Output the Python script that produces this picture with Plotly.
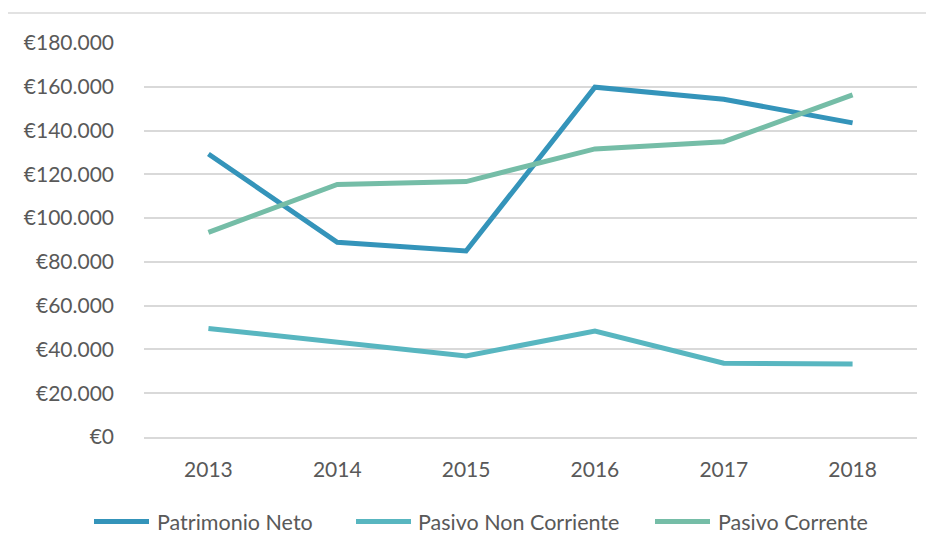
import plotly.graph_objects as go

years = ["2013", "2014", "2015", "2016", "2017", "2018"]
patrimonio_neto = [129300, 89000, 85000, 159800, 154300, 143500]
pasivo_non_corriente = [49600, 43400, 37000, 48400, 33700, 33400]
pasivo_corriente = [93500, 115400, 116700, 131600, 134900, 156300]
y_ticks = [0, 20000, 40000, 60000, 80000, 100000, 120000, 140000, 160000, 180000]
y_tick_labels = ["€0", "€20.000", "€40.000", "€60.000", "€80.000", "€100.000",
                 "€120.000", "€140.000", "€160.000", "€180.000"]

series_names = ["Patrimonio Neto", "Pasivo Non Corriente", "Pasivo Corrente"]
series_values = [patrimonio_neto, pasivo_non_corriente, pasivo_corriente]
series_colors = ["#3494BA", "#58B6C0", "#75BDA7"]

FONT = "Lato"
TXT = "#595959"
GRID = "#D9D9D9"

# page body has an 8px margin; figure sized to fit inside the window
W, H = 918, 536
L, R, T, B = 136, 9, 35, 107
PW, PH = W - L - R, H - T - B


def px_x(x):  # figure pixel -> paper x
    return (x - L) / PW


def px_y(y):  # figure pixel -> paper y
    return (H - B - y) / PH


fig = go.Figure()
for name, vals, col in zip(series_names, series_values, series_colors):
    fig.add_trace(go.Scatter(
        x=years, y=vals, name=name, mode="lines",
        line=dict(color=col, width=5), showlegend=False,
    ))

shapes = [dict(
    type="rect", xref="paper", yref="paper",
    x0=px_x(-1), x1=px_x(940), y0=px_y(560), y1=px_y(5),
    line=dict(color=GRID, width=1.5), fillcolor="rgba(0,0,0,0)", layer="below",
)]
annotations = []
# manual legend (symbol start x, text start x) in figure pixels
legend_pos = [(86, 147), (348, 408), (647, 708)]
leg_y = 513.5
for (sx, tx), name, col in zip(legend_pos, series_names, series_colors):
    shapes.append(dict(
        type="line", xref="paper", yref="paper",
        x0=px_x(sx), x1=px_x(sx + 55), y0=px_y(leg_y), y1=px_y(leg_y),
        line=dict(color=col, width=5),
    ))
    annotations.append(dict(
        text=name, xref="paper", yref="paper", x=px_x(tx), y=px_y(leg_y),
        xanchor="left", yanchor="middle", showarrow=False,
        font=dict(family=FONT, size=21.5, color=TXT),
    ))

fig.update_layout(
    width=W, height=H,
    margin=dict(l=L, r=R, t=T, b=B),
    paper_bgcolor="white", plot_bgcolor="white",
    font=dict(family=FONT, size=21, color=TXT),
    showlegend=False,
    shapes=shapes, annotations=annotations,
)

fig.update_xaxes(
    type="category", range=[-0.5, 5.5], showgrid=False,
    showline=True, linecolor=GRID, linewidth=1.5,
    ticks="", ticklabelstandoff=13, tickfont=dict(family=FONT, size=21, color=TXT),
)
fig.update_yaxes(
    range=[0, 180000], tickvals=y_ticks, ticktext=y_tick_labels,
    showgrid=True, gridcolor=GRID, gridwidth=1.5, zeroline=False, showline=False,
    ticks="", ticklabelstandoff=29, tickfont=dict(family=FONT, size=21, color=TXT),
)

fig.write_html("out.html")
